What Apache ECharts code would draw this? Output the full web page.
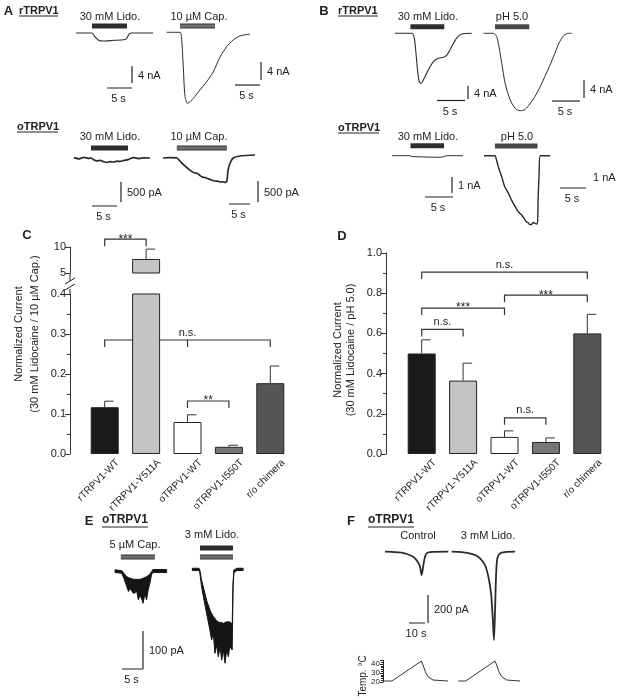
<!DOCTYPE html>
<html>
<head>
<meta charset="utf-8">
<script src="https://cdn.jsdelivr.net/npm/echarts@6/dist/echarts.min.js"></script>
<style>
html, body { margin: 0; padding: 0; background: #fff; }
#fig { width: 618px; height: 700px; }
</style>
</head>
<body>
<div id="fig"></div>
<script>
// ---- bar charts (C, D) ----
var categories = ['rTRPV1-WT', 'rTRPV1-Y511A', 'oTRPV1-WT', 'oTRPV1-I550T', 'r/o chimera'];
var capRatio = [0.117, 7.7, 0.080, 0.018, 0.177];     // lidocaine / capsaicin
var capRatioErr = [0.015, 1.9, 0.018, 0.004, 0.043];
var phRatio = [0.50, 0.365, 0.085, 0.060, 0.60];      // lidocaine / pH 5.0
var phRatioErr = [0.068, 0.087, 0.030, 0.020, 0.095];
// significance brackets: from, to, level, middle leg, text
var sigCapTop = [{from: 0, to: 1, y: 11.5, mid: null, text: '***'}];
var sigCapLow = [{from: 0, to: 4, y: 0.285, mid: 2, text: 'n.s.'},
                 {from: 2, to: 3, y: 0.1325, mid: null, text: '**'}];
var sigPh = [{from: 0, to: 4, y: 0.905, mid: null, text: 'n.s.'},
             {from: 2, to: 4, y: 0.79, mid: null, text: '***'},
             {from: 0, to: 2, y: 0.726, mid: null, text: '***'},
             {from: 0, to: 1, y: 0.62, mid: null, text: 'n.s.'},
             {from: 2, to: 3, y: 0.18, mid: null, text: 'n.s.'}];

// ---- current traces: time (s), current (nA or pA) ----
var tA1 = [0, 3.2, 3.8, 4.6, 5.4, 7.2, 9.8, 10.2, 10.6, 11.2, 15.4];
var iA1 = [0, 0, -0.94, -1.76, -1.88, -1.76, -1.53, -1.18, -0.24, 0, 0];
var tA2 = [0, 2.66, 3.0, 3.32, 3.66, 4.2, 5.3, 6.66, 8.0, 8.66, 9.32, 10.66, 12.0, 13.3, 14.66, 16.66];
var iA2 = [0, 0, -1.7, -7.7, -14.3, -15.8, -14.7, -12.8, -11.0, -9.9, -8.8, -5.5, -3.2, -1.7, -0.8, -0.4];
var tA3 = [0, 1, 2, 3, 3.4, 4, 4.6, 5.2, 6, 6.6, 7.2, 8, 8.6, 9.2, 10, 10.8, 11.4, 12, 13, 14, 15.2];
var iA3 = [10, -20, 15, -10, 0, -50, -70, -60, -95, -110, -90, -100, -80, -85, -60, -40, -5, 10, -15, 5, 0];
var tA4 = [0, 1.5, 3.3, 4.0, 5.2, 6.4, 7.0, 7.6, 8.2, 8.8, 9.4, 10.0, 10.6, 11.2, 11.8, 12.4, 13.0, 13.6, 14.2, 14.8, 15.2, 15.5, 16.0, 16.7, 18.3, 21.9];
var iA4 = [0, 10, 0, -71, -190, -286, -330, -357, -370, -417, -455, -464, -490, -512, -535, -548, -550, -571, -565, -583, -548, -286, -119, 0, 48, 71];
var tB1 = [0, 3.0, 3.45, 3.75, 4.05, 4.35, 4.65, 5.05, 5.95, 6.85, 7.75, 8.65, 9.25, 10.1, 11.0, 11.9, 13.7];
var iB1 = [0, 0, -1.5, -6.2, -11.8, -14.9, -15.4, -14.4, -11.3, -8.7, -7.7, -7.4, -6.7, -4.2, -1.5, -0.2, 0];
var tB2 = [0, 1.8, 2.4, 2.8, 3.3, 3.9, 4.8, 5.7, 6.6, 7.5, 8.3, 9.2, 10.1, 11.0, 11.9, 12.8, 13.5, 14.3, 15.2, 15.8];
var iB2 = [0, 0, -0.75, -3.0, -6.7, -11.1, -14.8, -16.7, -17.2, -16.9, -15.7, -14.1, -12.0, -9.6, -7.1, -4.4, -2.2, -0.6, 0, 0];
var tB3 = [0, 3.2, 3.6, 5.9, 8.6, 9.3, 9.8, 12.7];
var iB3 = [0, 0, -0.05, -0.08, -0.1, -0.05, 0, 0];
var tB4 = [0, 2.1, 2.4, 2.75, 3.4, 4.0, 4.7, 5.3, 6.0, 6.6, 7.25, 7.9, 8.2, 8.5, 8.8, 9.2, 9.5, 9.8, 10.25, 10.4, 10.6, 10.8, 12.7];
var iB4 = [0, 0, -0.25, -0.65, -1.24, -1.83, -2.22, -2.61, -3.0, -3.3, -3.49, -3.78, -3.9, -3.94, -4.06, -4.02, -3.92, -3.98, -4.02, -2.6, -1.04, 0, 0];
// E: noisy recordings, upper and lower envelope (pA)
var tE1 = [0, 1.6, 2.1, 2.8, 3.2, 3.6, 4.4, 5.2, 5.55, 6.0, 6.7, 7.1, 7.5, 7.9, 8.3, 8.7, 9.0, 12.3];
var upE1 = [3, 1, -6, -15, -17, -19, -22, -22, -22, -22, -19, -17, -15, -12, -8, -2, 4, 4];
var loE1 = [-4, -6, -19, -41, -54, -46, -59, -54, -76, -63, -85, -59, -76, -50, -32, -10, -4, -4];
var tE2 = [0, 1.6, 1.8, 2.2, 2.8, 3.4, 4.2, 4.6, 5.0, 5.4, 5.8, 6.2, 6.6, 7.0, 7.4, 7.8, 8.2, 8.6, 8.9, 9.5, 9.7, 9.9, 10.6, 12.1];
var upE2 = [2, 2, -3, -29, -55, -82, -108, -117, -125, -130, -136, -139, -141, -141, -143, -141, -139, -139, -139, -145, -38, -3, 2, 2];
var loE2 = [-4, -4, -11, -46, -82, -117, -161, -187, -169, -222, -200, -231, -204, -240, -213, -248, -213, -231, -204, -213, -46, -10, -4, -4];
// F: heat responses (pA) and bath temperature (deg C)
var tF1 = [0, 6.25, 10.4, 13.5, 16.7, 18.75, 20.8, 21.9, 22.9, 24.0, 25.0, 26.0, 28.1, 39.6];
var iF1 = [0, -2.4, -7, -16.4, -30.7, -47.4, -78, -107, -167, -95, -35.5, -11.7, -2.4, 0];
var tF2 = [0, 6.25, 10.4, 14.6, 17.7, 20.8, 22.9, 24.6, 25.6, 26.4, 27.1, 27.7, 28.5, 30.2, 33.3, 39.6];
var iF2 = [0, -2.4, -9.5, -23.8, -47.6, -95, -178, -298, -464, -631, -417, -178, -47.6, -11.9, -2.4, 0];
var tT1 = [0, 5.6, 24.0, 25.0, 26.5, 28.1, 31.25, 40.6];
var tempT1 = [21.1, 21.1, 43.3, 38.9, 31.4, 25.9, 22.2, 21.1];
var tT2 = [0, 4.6, 22.9, 24.0, 25.4, 27.1, 30.25, 38.6];
var tempT2 = [21.1, 21.1, 43.3, 38.9, 31.4, 25.9, 22.2, 21.1];

// drug applications (s)
var stimA1 = [3.2, 10.2], stimA2 = [2.66, 9.66], stimA3 = [3.4, 10.8], stimA4 = [3.3, 15.2];
var stimB1 = [2.75, 8.8], stimB2 = [2.1, 8.2], stimB3 = [3.3, 9.3], stimB4 = [2.1, 10.3];
var stimE1 = [1.4, 9.5], stimE2 = [1.83, 9.69];
// scale bars: time (s), current, unit
var scaleA12 = [5, 4, 'nA'], scaleA34 = [5, 500, 'pA'];
var scaleB12 = [5, 4, 'nA'], scaleB34 = [5, 1, 'nA'];
var scaleE = [5, 100, 'pA'], scaleF = [10, 200, 'pA'];

var FONT = '"Liberation Sans", Arial, Helvetica, sans-serif';
var INK = '#222';
var stimColor = {lido: '#2e2e2e', cap: '#707070', ph: '#474747'};
var barColors = ['#1a1a1a', '#c4c4c4', '#ffffff', '#767676', '#565656'];

// pixel layout of every recording
var tracePanels = [
  {t: tA1, i: iA1, x0: 76, y0: 33, sx: 5, sy: 4.25, w: 1.1, stim: [[stimA1, 26, 'lido']], label: ['30 mM Lido.', 110, 17], scale: scaleA12, vBar: [132, 66], hBar: [107, 88]},
  {t: tA2, i: iA2, x0: 166.7, y0: 32.3, sx: 5, sy: 4.5, w: 1, stim: [[stimA2, 26, 'cap']], label: ['10 µM Cap.', 199, 17], scale: scaleA12, vBar: [261, 62], hBar: [235, 85]},
  {t: tA3, i: iA3, x0: 74, y0: 158, sx: 5, sy: 0.04, w: 1.7, stim: [[stimA3, 148, 'lido']], label: ['30 mM Lido.', 110, 137], scale: scaleA34, vBar: [121, 182], hBar: [92, 206]},
  {t: tA4, i: iA4, x0: 163, y0: 158, sx: 4.2, sy: 0.042, w: 1.7, stim: [[stimA4, 148, 'cap']], label: ['10 µM Cap.', 199, 137], scale: scaleA34, vBar: [258, 181], hBar: [229, 204]},
  {t: tB1, i: iB1, x0: 395, y0: 33.3, sx: 5.6, sy: 3.25, w: 1.1, stim: [[stimB1, 26.7, 'lido']], label: ['30 mM Lido.', 428, 17], scale: scaleB12, vBar: [468, 86], hBar: [437, 100.5]},
  {t: tB2, i: iB2, x0: 483.3, y0: 33.3, sx: 5.6, sy: 4.5, w: 1, stim: [[stimB2, 26.7, 'ph']], label: ['pH 5.0', 512, 17], scale: scaleB12, vBar: [584, 80], hBar: [552, 101]},
  {t: tB3, i: iB3, x0: 392, y0: 155.7, sx: 5.6, sy: 16, w: 1, stim: [[stimB3, 145.7, 'lido']], label: ['30 mM Lido.', 428, 137], scale: scaleB34, vBar: [452, 177], hBar: [425, 197]},
  {t: tB4, i: iB4, x0: 484, y0: 155.7, sx: 5.2, sy: 17, w: 1.4, stim: [[stimB4, 146, 'ph']], label: ['pH 5.0', 517, 137], scale: scaleB34, vBar: [587, 168], hBar: [560, 188]},
  {t: tE1, up: upE1, lo: loE1, x0: 115, y0: 571, sx: 4.2, sy: 0.38, stim: [[stimE1, 557, 'cap']], label: ['5 µM Cap.', 135, 545], scale: scaleE, vBar: [143, 631], hBar: [122, 669]},
  {t: tE2, up: upE2, lo: loE2, x0: 192.3, y0: 569, sx: 4.2, sy: 0.38, stim: [[stimE2, 548, 'lido'], [stimE2, 557, 'cap']], label: ['3 mM Lido.', 212, 535]},
  {t: tF1, i: iF1, x0: 385, y0: 551.7, sx: 1.6, sy: 0.14, w: 1.8, stim: [], label: ['Control', 418, 536], scale: scaleF, vBar: [428, 595], hBar: [409, 623]},
  {t: tF2, i: iF2, x0: 451.7, y0: 551.7, sx: 1.6, sy: 0.14, w: 1.8, stim: [], label: ['3 mM Lido.', 488, 536]}
];
var tempPanels = [
  {t: tT1, v: tempT1, x0: 383, axis: true},
  {t: tT2, v: tempT2, x0: 458.3, axis: false}
];

var grids = [], xAxes = [], yAxes = [], series = [], graphics = [];

function addGrid(rect, xa, ya) {
  rect.outerBoundsMode = 'none';
  rect.containLabel = false;
  grids.push(rect);
  var gi = grids.length - 1;
  xa.gridIndex = gi;
  ya.gridIndex = gi;
  xAxes.push(xa);
  yAxes.push(ya);
  return gi;
}

function line(gi, pts, color, width, extra) {
  var s = {
    type: 'line', xAxisIndex: gi, yAxisIndex: gi, data: pts, symbol: 'none', showSymbol: false,
    clip: false, silent: true, z: 3,
    lineStyle: {color: color, width: width, cap: 'butt', join: 'round'}
  };
  for (var k in extra) s[k] = extra[k];
  series.push(s);
}

function zip(a, b) {
  return a.map(function (v, k) { return [v, b[k]]; });
}

function txt(s, x, y, o) {
  o = o || {};
  graphics.push({
    type: 'text', x: x, y: y, rotation: o.rot || 0, silent: true,
    style: {
      text: s, fill: o.color || INK, fontSize: o.size || 11, fontWeight: o.bold ? 'bold' : 'normal',
      fontFamily: FONT, textAlign: o.align || 'center', align: o.align || 'center',
      textVerticalAlign: 'middle', verticalAlign: 'middle', lineHeight: o.lh || null
    }
  });
}

function seg(x1, y1, x2, y2, w) {
  graphics.push({type: 'line', silent: true, shape: {x1: x1, y1: y1, x2: x2, y2: y2},
    style: {stroke: INK, lineWidth: w || 1}});
}

// noisy trace drawn as the band between its two envelopes
function bandRenderer(p) {
  return function (params, api) {
    if (params.dataIndex !== 0) return null;
    var pts = [];
    p.t.forEach(function (t, k) { pts.push(api.coord([t, p.up[k]])); });
    for (var k = p.t.length - 1; k >= 0; k--) pts.push(api.coord([p.t[k], p.lo[k]]));
    return {type: 'polygon', shape: {points: pts}, style: {fill: '#151515', stroke: '#151515', lineWidth: 1}};
  };
}

// recordings
tracePanels.forEach(function (p) {
  var gi = addGrid({left: p.x0, top: p.y0, width: 100, height: 100},
    {type: 'value', min: 0, max: 100 / p.sx, show: false},
    {type: 'value', min: -100 / p.sy, max: 0, show: false});
  if (p.i) {
    line(gi, zip(p.t, p.i), '#2a2a2a', p.w, {smooth: 0.25});
  } else {
    series.push({type: 'custom', coordinateSystem: 'cartesian2d', xAxisIndex: gi, yAxisIndex: gi,
      renderItem: bandRenderer(p), data: zip(p.t, p.up), clip: false, silent: true, z: 3});
  }
  p.stim.forEach(function (s) {
    var lev = (p.y0 - s[1]) / p.sy;
    var pts = [[s[0][0], lev], [s[0][1], lev]];
    if (s[2] === 'cap') {
      line(gi, pts, '#333', 5, {z: 4});
      line(gi, pts, stimColor.cap, 3, {z: 5});
    } else {
      line(gi, pts, stimColor[s[2]], 5, {z: 4});
    }
  });
  txt(p.label[0], p.label[1], p.label[2]);
  if (p.scale) {
    var tv = (p.vBar[0] - p.x0) / p.sx, iv = (p.y0 - p.vBar[1]) / p.sy;
    var th = (p.hBar[0] - p.x0) / p.sx, ih = (p.y0 - p.hBar[1]) / p.sy;
    line(gi, [[tv, iv], [tv, iv - p.scale[1]]], INK, 1.2);
    line(gi, [[th, ih], [th + p.scale[0], ih]], INK, 1.2);
    txt(p.scale[1] + ' ' + p.scale[2], p.vBar[0] + 6, p.vBar[1] + p.scale[1] * p.sy / 2 + 1, {align: 'left'});
    txt(p.scale[0] + ' s', p.hBar[0] + p.scale[0] * p.sx / 2 - 1, p.hBar[1] + 11);
  }
});

// temperature traces under F
tempPanels.forEach(function (p) {
  var gi = addGrid({left: p.x0, top: 660.4, width: 100, height: 21.6},
    {type: 'value', min: 0, max: 100 / 1.6, show: false},
    {type: 'value', min: 20, max: 44, interval: 10, show: p.axis,
     axisLine: {show: true, lineStyle: {color: INK, width: 1}},
     axisTick: {show: true, length: 3, lineStyle: {color: INK}},
     minorTick: {show: true, splitNumber: 5, length: 2, lineStyle: {color: INK}},
     splitLine: {show: false},
     axisLabel: {fontSize: 8, color: INK, margin: 3, showMaxLabel: false, fontFamily: FONT}});
  line(gi, zip(p.t, p.v), '#333', 1);
});
txt('Temp. °C', 363, 676, {rot: Math.PI / 2, size: 10});

// ---- bar chart helpers ----
function errItem(params, api) {
  var base = api.coord([api.value(0), api.value(1)]);
  var top = api.coord([api.value(0), api.value(2)]);
  var st = {stroke: '#333', lineWidth: 1};
  return {type: 'group', children: [
    {type: 'line', shape: {x1: base[0], y1: base[1], x2: top[0], y2: top[1]}, style: st},
    {type: 'line', shape: {x1: top[0], y1: top[1], x2: top[0] + 9, y2: top[1]}, style: st}
  ]};
}

function bracketRenderer(list) {
  return function (params, api) {
    var b = list[params.dataIndex];
    var a = api.coord([b.from, b.y]), c = api.coord([b.to, b.y]);
    var leg = 7;
    var st = {stroke: '#333', lineWidth: 1.2, fill: null};
    var kids = [{type: 'polyline', shape: {points: [[a[0], a[1] + leg], [a[0], a[1]], [c[0], c[1]], [c[0], c[1] + leg]]}, style: st}];
    if (b.mid !== null) {
      var m = api.coord([b.mid, b.y]);
      kids.push({type: 'line', shape: {x1: m[0], y1: m[1], x2: m[0], y2: m[1] + leg}, style: st});
    }
    var stars = b.text.charAt(0) === '*';
    kids.push({type: 'text', x: (a[0] + c[0]) / 2, y: a[1] + (stars ? 6 : -2),
      style: {text: b.text, fill: INK, fontSize: stars ? 12 : 11, fontFamily: FONT,
        textAlign: 'center', align: 'center', textVerticalAlign: 'bottom', verticalAlign: 'bottom'}});
    return {type: 'group', children: kids};
  };
}

function catLabelItem(params, api) {
  var c = api.coord([api.value(0), 0]);
  return {type: 'text', x: c[0] + 13, y: c[1] + 7, rotation: Math.PI / 4,
    style: {text: categories[params.dataIndex], fill: INK, fontSize: 10, fontFamily: FONT,
      textAlign: 'right', align: 'right', textVerticalAlign: 'middle', verticalAlign: 'middle'}};
}

function valueAxis(min, max, interval, minor, fmt, offset) {
  return {type: 'value', min: min, max: max, interval: interval, offset: offset,
    axisLine: {show: true, lineStyle: {color: '#333', width: 1}},
    axisTick: {show: true, length: 5, lineStyle: {color: '#333'}},
    minorTick: {show: minor, splitNumber: 2, length: 3, lineStyle: {color: '#333'}},
    splitLine: {show: false},
    axisLabel: {fontSize: 11, color: INK, margin: 4, fontFamily: FONT, formatter: fmt}};
}

function catAxis() {
  return {type: 'category', data: categories, axisLine: {show: false}, axisTick: {show: false},
    axisLabel: {show: false}, splitLine: {show: false}};
}

function addBars(gi, means, errs, keep, sig) {
  series.push({type: 'custom', coordinateSystem: 'cartesian2d', xAxisIndex: gi, yAxisIndex: gi,
    renderItem: bracketRenderer(sig), data: sig.map(function (b) { return [b.from, b.y]; }),
    clip: false, silent: true, z: 1});
  series.push({type: 'bar', xAxisIndex: gi, yAxisIndex: gi, barWidth: 28, silent: true, z: 2,
    data: means.map(function (m, k) {
      return keep(k) || k === 1 ? {value: m, itemStyle: {color: barColors[k], borderColor: '#222', borderWidth: 1}} : '-';
    })});
  var ed = [];
  means.forEach(function (m, k) { if (keep(k)) ed.push([k, m, m + errs[k]]); });
  series.push({type: 'custom', coordinateSystem: 'cartesian2d', xAxisIndex: gi, yAxisIndex: gi,
    renderItem: errItem, data: ed, clip: false, silent: true, z: 3});
}

var fmt1 = function (v) { return v.toFixed(1); };

// C: broken axis, upper part 5-10, lower part 0-0.4
var giCtop = addGrid({left: 84, top: 247, width: 207, height: 26}, catAxis(),
  valueAxis(5, 10, 5, false, function (v) { return String(v); }, 14));
addBars(giCtop, capRatio, capRatioErr, function (k) { return k === 1; }, sigCapTop);
var giClow = addGrid({left: 84, top: 294, width: 207, height: 160}, catAxis(),
  valueAxis(0, 0.4, 0.1, true, fmt1, 14));
addBars(giClow, capRatio, capRatioErr, function (k) { return k !== 1; }, sigCapLow);
series.push({type: 'custom', coordinateSystem: 'cartesian2d', xAxisIndex: giClow, yAxisIndex: giClow,
  renderItem: catLabelItem, data: categories.map(function (c, k) { return [k, 0]; }), clip: false, silent: true});

// D
var giD = addGrid({left: 401, top: 253, width: 207, height: 201}, catAxis(),
  valueAxis(0, 1, 0.2, true, fmt1, 15));
addBars(giD, phRatio, phRatioErr, function () { return true; }, sigPh);
series.push({type: 'custom', coordinateSystem: 'cartesian2d', xAxisIndex: giD, yAxisIndex: giD,
  renderItem: catLabelItem, data: categories.map(function (c, k) { return [k, 0]; }), clip: false, silent: true});

// axis break in C
seg(70, 273, 70, 281);
seg(70, 289, 70, 294);
seg(65, 284, 75, 278);
seg(65, 290, 75, 284);

// axis titles
txt('Normalized Current\n(30 mM Lidocaine / 10 µM Cap.)', 27, 334, {rot: Math.PI / 2, lh: 16});
txt('Normalized Current\n(30 mM Lidocaine / pH 5.0)', 344, 350, {rot: Math.PI / 2, lh: 13});

// panel letters and construct names
[['A', 8.5, 11], ['B', 324, 11], ['C', 27, 235], ['D', 342, 236], ['E', 89, 521], ['F', 351, 521]].forEach(function (l) {
  txt(l[0], l[1], l[2], {bold: true, size: 13});
});
[['rTRPV1', 19, 11, 39, 16], ['oTRPV1', 17, 127, 41, 132], ['rTRPV1', 338, 11, 40, 16],
 ['oTRPV1', 338, 128, 41, 133], ['oTRPV1', 102, 520, 46, 527], ['oTRPV1', 368, 520, 46, 527]].forEach(function (l) {
  txt(l[0], l[1], l[2], {bold: true, size: l[3] > 44 ? 12 : 11, align: 'left'});
  seg(l[1], l[4], l[1] + l[3], l[4], 1);
});

var chart = echarts.init(document.getElementById('fig'), null, {renderer: 'canvas'});
chart.setOption({
  animation: false,
  backgroundColor: '#fff',
  textStyle: {fontFamily: FONT},
  grid: grids,
  xAxis: xAxes,
  yAxis: yAxes,
  series: series,
  graphic: {elements: graphics}
});
</script>
</body>
</html>
